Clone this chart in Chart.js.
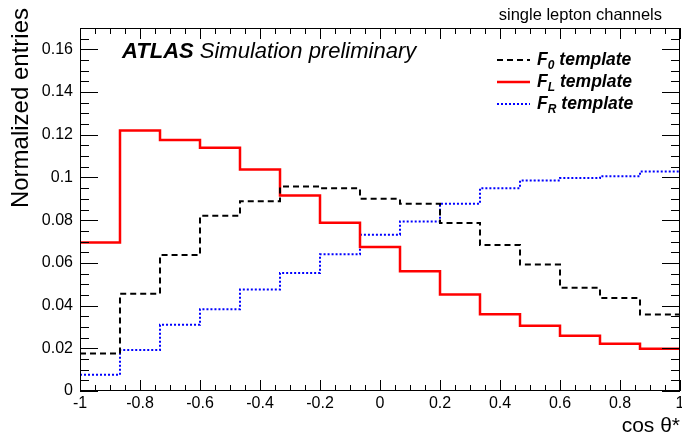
<!DOCTYPE html>
<html>
<head>
<meta charset="utf-8">
<title>cos theta* templates</title>
<script src="https://cdn.jsdelivr.net/npm/chart.js@4/dist/chart.umd.min.js"></script>
<style>
  html, body { margin: 0; padding: 0; background: #fff; }
  #wrap { width: 682px; height: 434px; }
</style>
</head>
<body>
<div id="wrap"><canvas id="chart" width="682" height="434"></canvas></div>
<script>
// --- DATA ---
const binEdges = [-1, -0.8667, -0.7333, -0.6, -0.4667, -0.3333, -0.2, -0.0667,
                  0.0667, 0.2, 0.3333, 0.4667, 0.6, 0.7333, 0.8667, 1];
const f0Template = [0.0176, 0.0456, 0.0637, 0.0821, 0.0889, 0.0958, 0.0949, 0.0900,
                    0.0877, 0.0787, 0.0684, 0.0592, 0.0483, 0.0435, 0.0358];
const fLTemplate = [0.0696, 0.1220, 0.1176, 0.1139, 0.1037, 0.0916, 0.0788, 0.0674,
                    0.0561, 0.0452, 0.0360, 0.0305, 0.0259, 0.0221, 0.0198];
const fRTemplate = [0.0076, 0.0192, 0.0310, 0.0383, 0.0475, 0.0553, 0.0640, 0.0732,
                    0.0794, 0.0877, 0.0950, 0.0986, 0.0997, 0.1006, 0.1028];
const xTickLabels = ['-1', '-0.8', '-0.6', '-0.4', '-0.2', '0', '0.2', '0.4', '0.6', '0.8', '1'];
const yTickLabels = ['0', '0.02', '0.04', '0.06', '0.08', '0.1', '0.12', '0.14', '0.16'];
const legendSubs = ['0', 'L', 'R'];

const FONT = '"Liberation Sans", Arial, Helvetica, sans-serif';

// --- HELPERS ---
// one point per bin edge, last edge repeats the last bin so the step closes at x = 1
function histPoints(values) {
    return binEdges.map((e, i) => ({ x: e, y: values[Math.min(i, values.length - 1)] }));
}

const styles = [
    { color: '#000000', width: 2, dash: [6, 4] },
    { color: '#ff0000', width: 2.5, dash: [] },
    { color: '#0000ff', width: 2, dash: [2, 2] }
];

// --- FRAME, TICKS AND TEXT (ROOT look) ---
const rootFrame = {
    id: 'rootFrame',
    afterDraw(chart) {
        const ctx = chart.ctx;
        const a = chart.chartArea;
        const xs = chart.scales.x, ys = chart.scales.y;
        ctx.save();

        // frame
        ctx.strokeStyle = '#000';
        ctx.lineWidth = 1;
        ctx.setLineDash([]);
        ctx.strokeRect(a.left + 0.5, a.top + 0.5, a.right - a.left - 1, a.bottom - a.top - 1);

        // x ticks, bottom and top
        ctx.beginPath();
        xTickLabels.forEach((lab, i) => {
            const v = Number(lab);
            const px = Math.round(xs.getPixelForValue(v)) + 0.5;
            ctx.moveTo(px, a.bottom); ctx.lineTo(px, a.bottom - 11);
            ctx.moveTo(px, a.top); ctx.lineTo(px, a.top + 11);
            if (i < xTickLabels.length - 1) {
                for (let k = 1; k < 4; k++) {
                    const m = Math.round(xs.getPixelForValue(v + k * 0.05)) + 0.5;
                    ctx.moveTo(m, a.bottom); ctx.lineTo(m, a.bottom - 6);
                    ctx.moveTo(m, a.top); ctx.lineTo(m, a.top + 6);
                }
            }
        });
        // y ticks, left and right
        for (let k = 0; k <= 34; k++) {
            const v = k * 0.005;
            const py = Math.round(ys.getPixelForValue(v)) + 0.5;
            const len = (k % 4 === 0) ? 18 : 9;
            ctx.moveTo(a.left, py); ctx.lineTo(a.left + len, py);
            ctx.moveTo(a.right, py); ctx.lineTo(a.right - len, py);
        }
        ctx.stroke();

        // tick labels
        ctx.fillStyle = '#000';
        ctx.font = '16px ' + FONT;
        ctx.textAlign = 'center';
        ctx.textBaseline = 'top';
        xTickLabels.forEach(lab => {
            ctx.fillText(lab, xs.getPixelForValue(Number(lab)), a.bottom + 5);
        });
        ctx.textAlign = 'right';
        ctx.textBaseline = 'middle';
        yTickLabels.forEach(lab => {
            ctx.fillText(lab, a.left - 7, ys.getPixelForValue(Number(lab)));
        });

        // axis titles
        ctx.font = '21px ' + FONT;
        ctx.textAlign = 'right';
        ctx.textBaseline = 'alphabetic';
        ctx.fillText('cos \u03b8*', a.right, 432);
        ctx.save();
        ctx.translate(28, 8);
        ctx.rotate(-Math.PI / 2);
        ctx.font = '24px ' + FONT;
        ctx.textAlign = 'right';
        ctx.fillText('Normalized entries', 0, 0);
        ctx.restore();

        // channel label
        ctx.font = '16.5px ' + FONT;
        ctx.textAlign = 'right';
        ctx.fillText('single lepton channels', 662, 20);

        // ATLAS label
        ctx.textAlign = 'left';
        ctx.font = 'italic bold 22px ' + FONT;
        ctx.fillText('ATLAS', 122, 58);
        const w = ctx.measureText('ATLAS ').width;
        ctx.font = 'italic 22px ' + FONT;
        ctx.fillText('Simulation preliminary', 122 + w, 58);

        // legend
        const rows = [60, 82, 104];
        rows.forEach((ry, i) => {
            const s = styles[i];
            ctx.strokeStyle = s.color;
            ctx.lineWidth = s.width;
            ctx.setLineDash(s.dash);
            ctx.beginPath();
            ctx.moveTo(497, ry); ctx.lineTo(530, ry);
            ctx.stroke();
            ctx.setLineDash([]);
            ctx.fillStyle = '#000';
            ctx.font = 'italic bold 17.5px ' + FONT;
            ctx.textBaseline = 'middle';
            ctx.fillText('F', 537, ry);
            let x = 537 + ctx.measureText('F').width;
            ctx.font = 'italic bold 12px ' + FONT;
            ctx.fillText(legendSubs[i], x, ry + 6);
            x += ctx.measureText(legendSubs[i]).width + 5;
            ctx.font = 'italic bold 17.5px ' + FONT;
            ctx.fillText('template', x, ry);
        });

        ctx.restore();
    }
};

// --- CHART ---
const seriesList = [f0Template, fLTemplate, fRTemplate];
const datasets = seriesList.map((vals, i) => ({
    data: histPoints(vals),
    borderColor: styles[i].color,
    borderWidth: styles[i].width,
    borderDash: styles[i].dash,
    borderCapStyle: 'butt',
    stepped: 'before',
    pointRadius: 0,
    fill: false,
    tension: 0
}));

new Chart(document.getElementById('chart'), {
    type: 'line',
    data: { datasets: datasets },
    options: {
        responsive: false,
        animation: false,
        layout: { padding: { left: 80, right: 2, top: 28, bottom: 43 } },
        plugins: { legend: { display: false }, tooltip: { enabled: false } },
        scales: {
            x: { type: 'linear', min: -1, max: 1, display: false },
            y: { type: 'linear', min: 0, max: 0.17, display: false }
        }
    },
    plugins: [rootFrame]
});
</script>
</body>
</html>
